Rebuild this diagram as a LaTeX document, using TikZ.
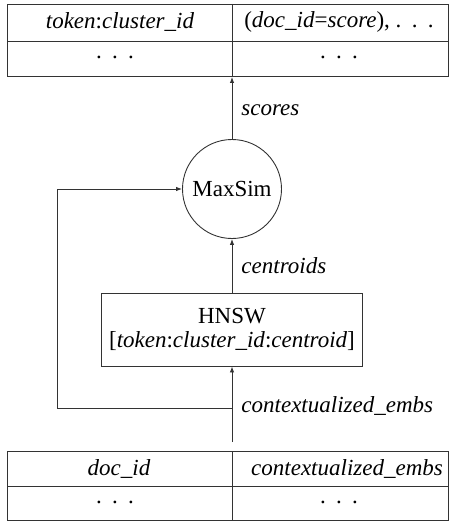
\documentclass[tikz,border=0pt]{standalone}
\usepackage{fontspec}
\setmainfont{Liberation Serif}
\usetikzlibrary{arrows.meta}
\newcommand{\sdots}{.\hspace{0.45em}.\hspace{0.45em}.}
\begin{document}
\begin{tikzpicture}[x=1pt,y=-1pt,
  line width=0.9pt, draw=black!80,
  every node/.style={font=\fontsize{23}{26}\selectfont},
  cell/.style={inner sep=0pt, anchor=center},
  lbl/.style={anchor=west, inner sep=0pt, font=\fontsize{23}{26}\selectfont\itshape},
  arr/.style={-{Latex[length=6pt,width=4.5pt]}}]
\useasboundingbox (0,0) rectangle (455,524);

% output table
\draw (7,4) rectangle (448,76);
\draw (7,41) -- (448,41);
\draw (232,4) -- (232,76);
\node[cell] (t11) at (120,22) {\textit{token}:\textit{cluster\_id}};
\node[cell] (t12) at (339,22) {(\textit{doc\_id}=\textit{score}), \sdots};
\node[cell] (t21) at (115,57) {\sdots};
\node[cell] (t22) at (339,57) {\sdots};
\coordinate (tbot) at (232,77);

% input table
\draw (7,451) rectangle (448,520);
\draw (7,486) -- (448,486);
\draw (232,451) -- (232,520);
\node[cell] (b11) at (119,469) {\textit{doc\_id}};
\node[cell] (b12) at (347,469) {\textit{contextualized\_embs}};
\node[cell] (b21) at (115,502) {\sdots};
\node[cell] (b22) at (339,502) {\sdots};
\coordinate (src) at (232,442);

% operators
\node[circle, draw, minimum size=99pt, inner sep=0pt] (maxsim) at (232,189) {MaxSim};
\node[draw, minimum width=261pt, minimum height=73pt, inner sep=0pt, align=center] (hnsw) at (232,329.5)
  {HNSW\\[-2pt] [\textit{token}:\textit{cluster\_id}:\textit{centroid}]};

\coordinate (split) at (232,408);
\coordinate (corner1) at (57,408);
\coordinate (corner2) at (57,189);

% connectors
\draw[arr] (maxsim.north) -- (tbot);
\draw[arr] (hnsw.north) -- (maxsim.south);
\draw[arr] (src) -- (hnsw.south);
\draw[arr] (split) -- (corner1) -- (corner2) -- (maxsim.west);

% labels
\node[lbl] (lscores) at (241,110) {scores};
\node[lbl] (lcent) at (241,266) {centroids};
\node[lbl] (lctx) at (241,406) {contextualized\_embs};
\end{tikzpicture}
\end{document}
